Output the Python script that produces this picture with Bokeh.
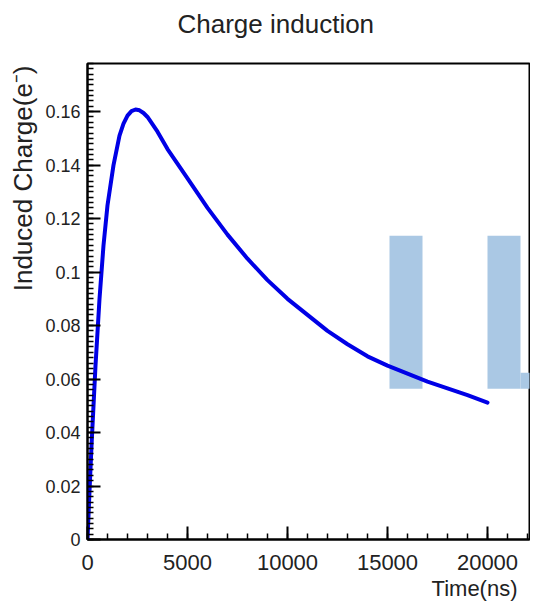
from bokeh.plotting import figure
from bokeh.models import FixedTicker, Title, Range1d
from bokeh.embed import file_html
from bokeh.resources import INLINE

# ---- data ----
time_ns = [0, 100, 200, 400, 600, 800, 1000, 1300, 1600, 1800, 2000, 2200, 2400,
           2600, 2800, 3000, 3500, 4000, 5000, 6000, 7000, 8000, 9000, 10000,
           11000, 12000, 13000, 14000, 15000, 16000, 17000, 18000, 19000, 20000]
charge = [0.0, 0.018, 0.035, 0.065, 0.090, 0.110, 0.125, 0.140, 0.151, 0.1555,
          0.1585, 0.1602, 0.1608, 0.1605, 0.1595, 0.158, 0.1525, 0.146, 0.135,
          0.124, 0.114, 0.105, 0.097, 0.090, 0.084, 0.078, 0.073, 0.0685, 0.065,
          0.062, 0.059, 0.0565, 0.054, 0.0512]

# light blue blocks overlaid on the picture
block_left = [15100, 20000, 21650]
block_right = [16750, 21650, 22550]
block_bottom = [0.0564, 0.0564, 0.0564]
block_top = [0.1136, 0.1136, 0.0624]

x_ticks = [0, 5000, 10000, 15000, 20000]
x_tick_labels = ["0", "5000", "10000", "15000", "20000"]
y_ticks = [0, 0.02, 0.04, 0.06, 0.08, 0.1, 0.12, 0.14, 0.16]
y_tick_labels = ["0", "0.02", "0.04", "0.06", "0.08", "0.1", "0.12", "0.14", "0.16"]
x_minor = [i * 1000 for i in range(0, 23)]
y_minor = [i * 0.002 for i in range(0, 90)]

title_text = "Charge induction"
y_label_text = "Induced Charge(e\u207b)"
x_label_text = "Time(ns)"

FONT = "Liberation Sans"
TXT = "#222222"

p = figure(frame_width=442, frame_height=476, output_backend="svg",
           toolbar_location=None, title=None,
           x_range=Range1d(0, 22100), y_range=Range1d(0, 0.178),
           min_border_left=87, min_border_right=1, min_border_top=63,
           min_border_bottom=59)

p.quad(left=block_left, right=block_right, bottom=block_bottom, top=block_top,
       fill_color="#aac8e4", line_color=None)
p.line(time_ns, charge, line_color="#0000e6", line_width=4, line_join="round",
       line_cap="round")

p.grid.visible = False
p.outline_line_color = "black"
p.outline_line_width = 2
p.background_fill_color = "white"
p.border_fill_color = "white"

for ax, ticks, labels, minor in ((p.xaxis[0], x_ticks, x_tick_labels, x_minor),
                                 (p.yaxis[0], y_ticks, y_tick_labels, y_minor)):
    ax.ticker = FixedTicker(ticks=ticks, minor_ticks=minor)
    ax.major_label_overrides = {t: l for t, l in zip(ticks, labels)}
    ax.major_tick_in = 13
    ax.major_tick_out = 0
    ax.minor_tick_in = 6
    ax.minor_tick_out = 0
    ax.axis_line_width = 2
    ax.major_tick_line_width = 2
    ax.minor_tick_line_width = 1.5
    ax.major_label_text_font = FONT
    ax.major_label_text_color = TXT

p.xaxis.major_label_text_font_size = "22px"
p.yaxis.major_label_text_font_size = "18px"
p.xaxis.major_label_standoff = 15
p.yaxis.major_label_standoff = 7

# spacer between frame and title (nearest the frame), then the title
p.add_layout(Title(text=" ", text_font_size="10px", standoff=12), "above")
p.add_layout(Title(text=title_text, align="left", offset=90, text_font=FONT,
                   text_font_size="26px", text_font_style="normal",
                   text_color=TXT, standoff=0), "above")

p.add_layout(Title(text=y_label_text, align="right", offset=2, text_font=FONT,
                   text_font_size="26px", text_font_style="normal",
                   text_color=TXT, standoff=10), "left")
p.add_layout(Title(text=x_label_text, align="right", offset=12, text_font=FONT,
                   text_font_size="22px", text_font_style="normal",
                   text_color=TXT, standoff=2), "below")

open("out.html", "w").write(file_html(p, INLINE))
